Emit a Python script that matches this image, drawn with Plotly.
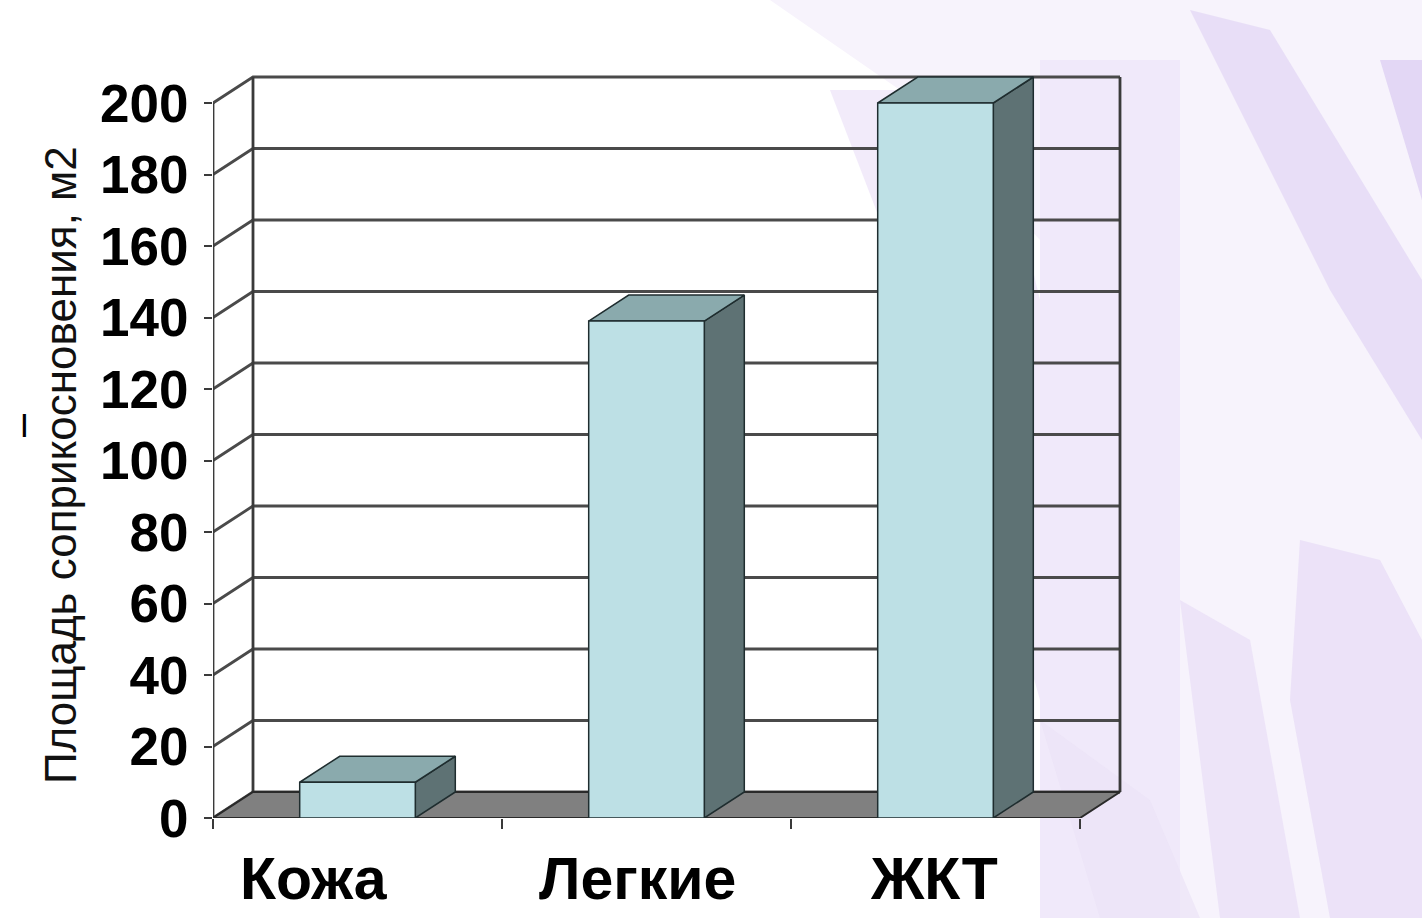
import plotly.graph_objects as go

# ---------------- data ----------------
categories = ["Кожа", "Легкие", "ЖКТ"]
values = [10, 139, 200]
y_ticks = [0, 20, 40, 60, 80, 100, 120, 140, 160, 180, 200]
y_title = "Площадь соприкосновения, м2"

# ---------------- geometry / style ----------------
W, H = 1422, 918
L_PX, R_PX, T_PX, B_PX = 213, 1200, 40, 818     # plot area in pixels
PX_PER_CAT = 289.0
PX_PER_VAL = 3.575
X_RANGE = [0, (R_PX - L_PX) / PX_PER_CAT]
Y_RANGE = [0, (B_PX - T_PX) / PX_PER_VAL]
DX = 40 / PX_PER_CAT          # depth offset (x units)
DY = 26 / PX_PER_VAL          # depth offset (y units)
BAR_W = 0.4
N = len(categories)
YMAX = y_ticks[-1]

FRONT = "#BDE0E5"
TOP = "#8AAAAD"
SIDE = "#5E7274"
EDGE = "#1f2d2f"
GRID = "#4a4a4a"
FLOOR = "#808080"
FONT = "Liberation Sans, Arial, sans-serif"


def px2paper_x(px):
    return (px - L_PX) / (R_PX - L_PX)


def px2paper_y(py):
    return (B_PX - py) / (B_PX - T_PX)


def poly(xs, ys, fill, line_color=EDGE, lw=1.5):
    return go.Scatter(x=xs, y=ys, mode="lines", fill="toself", fillcolor=fill,
                      line=dict(color=line_color, width=lw),
                      hoverinfo="skip", showlegend=False)


fig = go.Figure()

# ---- back wall gridlines + left wall diagonals ----
for t in y_ticks:
    fig.add_trace(go.Scatter(
        x=[0, DX, N + DX], y=[t, t + DY, t + DY], mode="lines",
        line=dict(color=GRID, width=2.8), hoverinfo="skip", showlegend=False))
# wall vertical edges
for xv in [DX, N + DX]:
    fig.add_trace(go.Scatter(
        x=[xv, xv], y=[DY, YMAX + DY], mode="lines",
        line=dict(color="#3a3a3a", width=2.8), hoverinfo="skip", showlegend=False))
# front vertical axis line
fig.add_trace(go.Scatter(
    x=[0, 0], y=[0, YMAX], mode="lines",
    line=dict(color="#3a3a3a", width=2.8), hoverinfo="skip", showlegend=False))

# ---- floor ----
fig.add_trace(poly([0, N, N + DX, DX, 0], [0, 0, DY, DY, 0], FLOOR, "#2a2a2a", 2))

# ---- 3D bars (side, top, front faces) ----
for i, v in enumerate(values):
    xc = i + 0.5
    x0, x1 = xc - BAR_W / 2, xc + BAR_W / 2
    fig.add_trace(poly([x1, x1 + DX, x1 + DX, x1, x1], [0, DY, v + DY, v, 0], SIDE))
    fig.add_trace(poly([x0, x1, x1 + DX, x0 + DX, x0], [v, v, v + DY, v + DY, v], TOP))
    fig.add_trace(poly([x0, x1, x1, x0, x0], [0, 0, v, v, 0], FRONT))

# ---- category labels ----
label_shift = [-44, -9, -2]
for i, c in enumerate(categories):
    fig.add_annotation(
        x=i + 0.5, xref="x", y=px2paper_y(879), yref="paper",
        text=c, showarrow=False, xanchor="center", yanchor="middle",
        xshift=label_shift[i],
        font=dict(family=FONT, size=59, color="black", weight="bold"))

# ---- y title ----
fig.add_annotation(
    x=px2paper_x(60), xref="paper", y=px2paper_y(465), yref="paper",
    text=y_title, textangle=-90, showarrow=False,
    xanchor="center", yanchor="middle",
    font=dict(family=FONT, size=44, color="#111111"))
# small stray mark
fig.add_annotation(
    x=px2paper_x(24), xref="paper", y=px2paper_y(423), yref="paper",
    text="|", showarrow=False, xanchor="center", yanchor="middle",
    font=dict(family=FONT, size=24, color="black", weight="bold"))

# ---- background decoration (slide swirl) ----
def pth(points):
    return "M " + " L ".join(f"{px2paper_x(a):.4f},{px2paper_y(b):.4f}" for a, b in points) + " Z"

bg_shapes = [
    ([(770, 0), (1422, 0), (1422, 918), (1040, 918), (1040, 240), (900, 90)], "#F7F3FC", 1.0),
    ([(1040, 60), (1180, 60), (1180, 918), (1040, 918)], "#F0E9FA", 1.0),
    ([(830, 90), (990, 90), (1040, 300), (1040, 700), (960, 420), (880, 220)], "#ECE3F8", 0.7),
    ([(1190, 10), (1270, 30), (1422, 280), (1422, 440), (1330, 290)], "#E4D8F5", 0.8),
    ([(1300, 540), (1380, 560), (1422, 640), (1422, 918), (1330, 918), (1290, 700)], "#E8DDF6", 0.8),
    ([(1180, 600), (1250, 640), (1300, 918), (1220, 918)], "#E8DDF6", 0.7),
    ([(1040, 720), (1150, 800), (1200, 918), (1100, 918)], "#EBE2F7", 0.7),
    ([(1380, 60), (1422, 60), (1422, 200)], "#DDD0F3", 0.8),
]
shapes = []
for pts, col, op in bg_shapes:
    shapes.append(dict(type="path", path=pth(pts), xref="paper", yref="paper",
                       fillcolor=col, opacity=op, line=dict(width=0), layer="below"))

fig.update_layout(
    width=W, height=H,
    margin=dict(l=L_PX, r=W - R_PX, t=T_PX, b=H - B_PX, autoexpand=False),
    paper_bgcolor="white", plot_bgcolor="rgba(0,0,0,0)",
    shapes=shapes, showlegend=False,
    xaxis=dict(range=X_RANGE, showgrid=False, zeroline=False, showline=False,
               tickmode="array", tickvals=list(range(N + 1)), ticktext=[""] * (N + 1),
               ticks="outside", ticklen=10, tickwidth=2, tickcolor="#3a3a3a", fixedrange=True),
    yaxis=dict(range=Y_RANGE, showgrid=False, zeroline=False, showline=False,
               tickmode="array", tickvals=y_ticks, ticktext=[str(t) for t in y_ticks],
               ticks="outside", ticklen=8, tickwidth=2, tickcolor="#3a3a3a",
               ticklabelstandoff=5,
               tickfont=dict(family=FONT, size=53, color="black", weight="bold"),
               fixedrange=True),
)

fig.write_html("out.html")
